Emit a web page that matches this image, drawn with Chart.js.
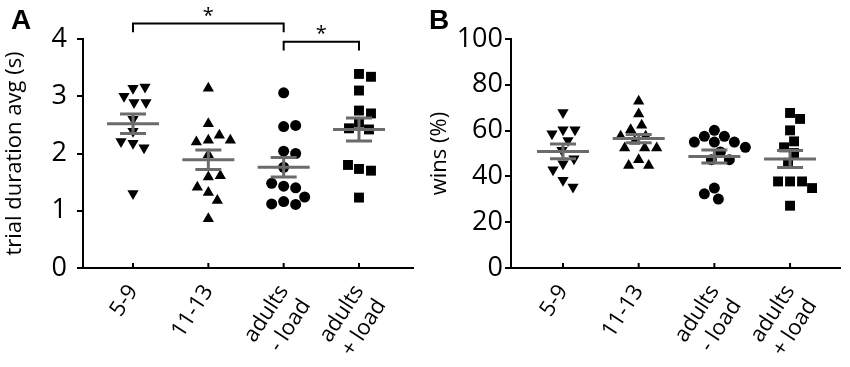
<!DOCTYPE html>
<html>
<head>
<meta charset="utf-8">
<script src="https://cdn.jsdelivr.net/npm/chart.js@4.4.1/dist/chart.umd.min.js"></script>
<style>
    body { margin: 0; background: #fff; }
    #wrap { position: relative; width: 850px; height: 367px; overflow: hidden; }
    .panel { position: absolute; top: 0; width: 425px; height: 367px; }
    .letter { position: absolute; top: 6px; font-family: "Liberation Sans", Arial, sans-serif; font-weight: bold; font-size: 28px; line-height: 28px; color: #000; }
</style>
</head>
<body>
<div id="wrap">
    <div class="panel" style="left:0"><canvas id="chartA"></canvas></div>
    <div class="panel" style="left:425px"><canvas id="chartB"></canvas></div>
    <div class="letter" style="left:11px">A</div>
    <div class="letter" style="left:429px">B</div>
</div>
<script>
// --- Data ---
const groupLabels = ['5-9', '11-13', ['adults', '- load'], ['adults', '+ load']];

// A: trial duration avg (s)
const dur5to9 = [3.14, 3.16, 3.00, 2.89, 2.89, 2.60, 2.39, 2.18, 2.10, 2.21, 1.30];
const dur11to13 = [3.14, 2.52, 2.23, 2.32, 2.20, 2.23, 1.98, 1.59, 1.61, 1.32, 1.41, 1.18, 0.86];
const durAdultsNoLoad = [3.06, 2.47, 2.49, 2.04, 2.00, 1.76, 1.43, 1.40, 1.48, 1.16, 1.11, 1.12, 1.24];
const durAdultsLoad = [3.39, 3.34, 3.10, 2.75, 2.70, 2.54, 2.42, 2.44, 1.73, 1.70, 1.80, 1.23];
const durMean = [2.52, 1.89, 1.76, 2.42];
const durSem = [0.17, 0.17, 0.17, 0.20];

// B: wins (%)
const wins5to9 = [67.9, 60.4, 60.4, 58.6, 55.7, 51.4, 45.5, 47.7, 42.9, 38.3, 35.4];
const wins11to13 = [72.8, 67.2, 62.3, 60.4, 57.5, 57.5, 55.3, 52.4, 52.4, 52.4, 47.3, 44.8, 44.8];
const winsAdultsNoLoad = [60.1, 57.5, 57.5, 55.0, 55.0, 55.0, 52.7, 50.7, 47.3, 47.3, 34.9, 30.1, 32.4];
const winsAdultsLoad = [67.7, 65.1, 60.1, 55.3, 52.7, 50.2, 45.9, 37.8, 37.8, 37.8, 34.9, 27.2];
const winsMean = [50.9, 56.5, 48.7, 47.6];
const winsSem = [3.2, 1.8, 2.8, 3.7];

// significance brackets on A: [from group, to group], bracket height (s)
const sigPairs = [[0, 2], [2, 3]];
const sigLevel = [4.27, 3.95];

Chart.defaults.font.family = "'Open Sans', sans-serif";
Chart.defaults.color = '#000';

// --- marker styles per group ---
const markers = [
    { pointStyle: 'triangle', rotation: 180, pointRadius: 6.5 },
    { pointStyle: 'triangle', rotation: 0, pointRadius: 6.5 },
    { pointStyle: 'circle', rotation: 0, pointRadius: 5.5 },
    { pointStyle: 'rect', rotation: 0, pointRadius: 7 }
];

function makeDatasets(groups) {
    return groups.map((vals, g) => Object.assign({
        values: vals,
        data: vals.map(v => ({ x: g, y: v })),
        backgroundColor: '#000',
        borderColor: '#000',
        borderWidth: 0,
        showLine: false
    }, markers[g]));
}

// grey mean line + SEM bars, drawn on top of the points
const meanBars = {
    id: 'meanBars',
    afterDatasetsDraw(chart, args, opts) {
        const { ctx } = chart;
        const x = chart.scales.x, y = chart.scales.y;
        ctx.save();
        ctx.strokeStyle = '#6b6b6b';
        ctx.lineWidth = 3;
        opts.mean.forEach((m, i) => {
            const cx = x.getPixelForValue(i);
            const ym = y.getPixelForValue(m);
            const yt = y.getPixelForValue(m + opts.sem[i]);
            const yb = y.getPixelForValue(m - opts.sem[i]);
            ctx.beginPath();
            ctx.moveTo(cx - 26, ym); ctx.lineTo(cx + 26, ym);
            ctx.moveTo(cx - 13, yt); ctx.lineTo(cx + 13, yt);
            ctx.moveTo(cx - 13, yb); ctx.lineTo(cx + 13, yb);
            ctx.moveTo(cx, yt); ctx.lineTo(cx, yb);
            ctx.stroke();
        });
        ctx.restore();
    },
    afterDraw(chart) {
        // inward tick marks on the x axis
        const { ctx } = chart;
        const x = chart.scales.x;
        ctx.save();
        ctx.strokeStyle = '#000';
        ctx.lineWidth = 2;
        x.ticks.forEach(t => {
            const px = x.getPixelForValue(t.value);
            ctx.beginPath();
            ctx.moveTo(px, x.top);
            ctx.lineTo(px, x.top - 5);
            ctx.stroke();
        });
        ctx.restore();
    }
};

const sigBrackets = {
    id: 'sigBrackets',
    afterDraw(chart, args, opts) {
        if (!opts.pairs) return;
        const { ctx } = chart;
        const x = chart.scales.x, y = chart.scales.y;
        ctx.save();
        ctx.strokeStyle = '#000';
        ctx.fillStyle = '#000';
        ctx.lineWidth = 2;
        ctx.font = "20px 'Open Sans', sans-serif";
        ctx.textAlign = 'center';
        ctx.textBaseline = 'middle';
        opts.pairs.forEach((p, i) => {
            const x1 = x.getPixelForValue(p[0]);
            const x2 = x.getPixelForValue(p[1]);
            const yl = y.getPixelForValue(opts.level[i]);
            const yd = y.getPixelForValue(opts.level[i] - 0.15);
            ctx.beginPath();
            ctx.moveTo(x1, yd); ctx.lineTo(x1, yl); ctx.lineTo(x2, yl); ctx.lineTo(x2, yd);
            ctx.stroke();
            ctx.fillText('*', (x1 + x2) / 2, y.getPixelForValue(opts.level[i] + 0.13));
        });
        ctx.restore();
    }
};

// simple beeswarm: spread points sideways so markers do not overlap
function swarm(chart, diam) {
    const xs = chart.scales.x, ys = chart.scales.y;
    const unit = xs.getPixelForValue(1) - xs.getPixelForValue(0);
    chart.data.datasets.forEach((ds, g) => {
        const placed = [];
        ds.data = ds.values.map(v => {
            const py = ys.getPixelForValue(v);
            let off = 0;
            for (let k = 0; k < 80; k++) {
                const cand = (k % 2 ? 1 : -1) * Math.ceil(k / 2);
                const ok = placed.every(p => (p[0] - cand) ** 2 + (p[1] - py) ** 2 >= diam * diam);
                if (ok) { off = cand; break; }
            }
            placed.push([off, py]);
            return { x: g + off / unit, y: v };
        });
    });
    chart.update('none');
}

function makeChart(id, cfg) {
    const chart = new Chart(document.getElementById(id), {
        type: 'scatter',
        data: { datasets: makeDatasets(cfg.groups) },
        plugins: [meanBars, sigBrackets],
        options: {
            responsive: true,
            maintainAspectRatio: false,
            animation: false,
            events: [],
            layout: { padding: { top: 39, right: cfg.right, left: 0, bottom: 0 } },
            plugins: {
                legend: { display: false },
                tooltip: { enabled: false },
                meanBars: { mean: cfg.mean, sem: cfg.sem },
                sigBrackets: cfg.sig || {}
            },
            scales: {
                x: {
                    type: 'linear',
                    min: cfg.xMin,
                    max: cfg.xMax,
                    afterBuildTicks: s => { s.ticks = groupLabels.map((l, i) => ({ value: i })); },
                    afterFit: s => { s.height = 99; },
                    grid: { display: false, drawTicks: false },
                    border: { display: true, color: '#000', width: 2 },
                    ticks: {
                        autoSkip: false,
                        minRotation: 57,
                        maxRotation: 57,
                        padding: 12,
                        font: { size: 22 },
                        callback: v => groupLabels[v]
                    }
                },
                y: {
                    min: 0,
                    max: cfg.yMax,
                    afterFit: s => { s.width = cfg.yWidth; },
                    grid: { drawOnChartArea: false, drawTicks: true, tickLength: 6, color: '#000', lineWidth: 2 },
                    border: { display: true, color: '#000', width: 2 },
                    ticks: { stepSize: cfg.yStep, padding: cfg.yPad, font: { size: 27 } },
                    title: { display: true, text: cfg.title, font: { size: 22 }, padding: { top: 2, bottom: 0 } }
                }
            }
        }
    });
    swarm(chart, 11.5);
    return chart;
}

makeChart('chartA', {
    groups: [dur5to9, dur11to13, durAdultsNoLoad, durAdultsLoad],
    mean: durMean, sem: durSem,
    sig: { pairs: sigPairs, level: sigLevel },
    title: 'trial duration avg (s)',
    yMax: 4, yStep: 1, yWidth: 83, yPad: 10, right: 12,
    xMin: -0.664, xMax: 3.717
});

makeChart('chartB', {
    groups: [wins5to9, wins11to13, winsAdultsNoLoad, winsAdultsLoad],
    mean: winsMean, sem: winsSem,
    title: 'wins (%)',
    yMax: 100, yStep: 20, yWidth: 86, yPad: 2, right: 10,
    xMin: -0.687, xMax: 3.66
});
</script>
</body>
</html>
